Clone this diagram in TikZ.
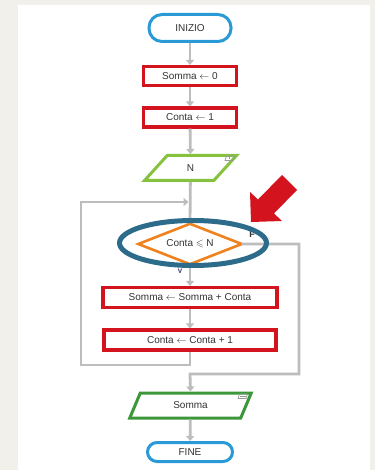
\documentclass[tikz,border=0pt]{standalone}
\usepackage{fontspec}
\setmainfont{Liberation Sans}
\usepackage{amssymb}
\usetikzlibrary{shapes.geometric,arrows.meta}

\definecolor{pagebg}{HTML}{F2F0EA}
\definecolor{termblue}{HTML}{2A9AD6}
\definecolor{procred}{HTML}{D3141F}
\definecolor{inGreen}{HTML}{86C23E}
\definecolor{outGreen}{HTML}{3C973A}
\definecolor{decOrange}{HTML}{F0821E}
\definecolor{ringTeal}{HTML}{2C6C8A}
\definecolor{flowgray}{HTML}{BDBDBD}
\definecolor{txt}{HTML}{333333}

\begin{document}
\begin{tikzpicture}[x=1pt,y=-1pt,
  lbl/.style={font=\fontsize{10}{11}\selectfont, text=txt},
  terminal/.style={lbl, rectangle, draw=termblue, line width=3pt, inner sep=0pt},
  procbox/.style={lbl, rectangle, draw=procred, line width=3.2pt, inner sep=0pt},
  iobox/.style={lbl, trapezium, trapezium left angle=63, trapezium right angle=117,
    trapezium stretches=true, line width=3pt, inner sep=0pt},
  flow/.style={draw=flowgray, line width=2.8pt},
  flowarrow/.style={flow, -{Triangle[width=8pt,length=5pt]}},
  icon/.style={draw=gray!80, line width=0.7pt}
]
  % page and panel
  \useasboundingbox (0,0) rectangle (375,470);
  \fill[pagebg] (0,0) rectangle (375,470);
  \fill[white] (18,5) rectangle (370,470);

  % blocks
  \node[terminal, minimum width=82pt, minimum height=27pt, rounded corners=13pt] (start) at (190,28) {INIZIO};
  \node[procbox, minimum width=93pt, minimum height=19pt] (s0) at (190,76) {Somma $\leftarrow$ 0};
  \node[procbox, minimum width=93pt, minimum height=19pt] (c1) at (190,117.5) {Conta $\leftarrow$ 1};
  \node[iobox, draw=inGreen, minimum width=92pt, minimum height=25pt] (inN) at (190.5,168) {N};
  \node[rectangle, minimum width=103pt, minimum height=40pt, inner sep=0pt, lbl] (dec) at (190,244) {Conta $\leqslant$ N};
  \node[procbox, minimum width=174pt, minimum height=20pt] (ssc) at (190,297.5) {Somma $\leftarrow$ Somma + Conta};
  \node[procbox, minimum width=172pt, minimum height=20pt] (cc1) at (190,340) {Conta $\leftarrow$ Conta + 1};
  \node[iobox, draw=outGreen, minimum width=122pt, minimum height=25pt] (out) at (190.5,405.5) {Somma};
  \node[terminal, minimum width=85pt, minimum height=19pt, rounded corners=9.5pt] (fine) at (190,452) {FINE};

  % decision outline
  \draw[decOrange, line width=2.6pt, line join=miter]
    (dec.north) -- (dec.east) -- (dec.south) -- (dec.west) -- cycle;

  % branch labels
  \node[font=\bfseries\fontsize{9}{10}\selectfont, text=txt] (flab) at (252,234.5) {F};
  \node[font=\bfseries\fontsize{6.5}{7}\selectfont, text=txt!70!blue] (vlab) at (180,271.5) {V};

  % small symbols in the input / output blocks
  \draw[icon] (225,160.5) -- (233,160.5) -- (234.5,156) -- (226.5,156) -- cycle;
  \draw[icon] (229.5,156) -- (229.5,159);
  \draw[icon] (238,398.5) -- (246,398.5) -- (247.5,394) -- (239.5,394) -- cycle;
  \draw[icon] (240,396.3) -- (245.5,396.3);

  % connectors
  \coordinate (loopin) at (190,202);
  \coordinate (joinF) at (190,374);
  \draw[flowarrow] (start) -- (s0);
  \draw[flowarrow] (s0) -- (c1);
  \draw[flowarrow] (c1) -- (inN);
  \draw[flowarrow] (inN) -- (dec.north);
  \draw[flowarrow] (dec.south) -- (ssc);
  \draw[flowarrow] (ssc) -- (cc1);
  \draw[flowarrow]
    (cc1.south) -- (190,365) -- (81,365) -- (81,202) -- ([xshift=-1.5pt]loopin);
  \draw[flowarrow]
    (dec.east) -- (299,244) -- (299,374) -- (joinF) -- (out.north);
  \draw[flowarrow] (out) -- (fine);

  % highlight ring around the condition
  \node[ellipse, draw=ringTeal, line width=5pt, minimum width=147pt, minimum height=45pt,
    inner sep=0pt] (ring) at (193,243) {};

  % pointer arrow
  \fill[procred] (251,222) -- (250,192) -- (258,199.5) -- (282,175) -- (297,190)
    -- (274,213.5) -- (282,221) -- cycle;
\end{tikzpicture}
\end{document}
